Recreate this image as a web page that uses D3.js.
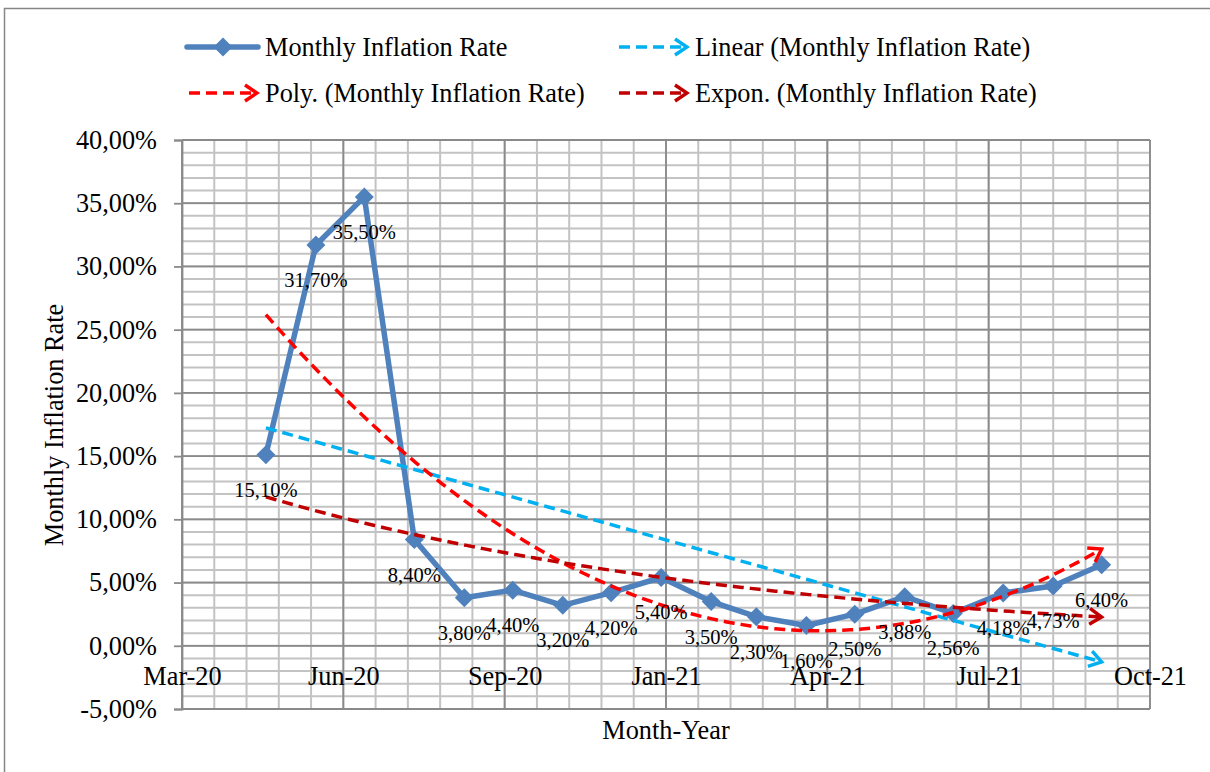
<!DOCTYPE html>
<html>
<head>
<meta charset="utf-8">
<script src="https://cdn.jsdelivr.net/npm/d3@7"></script>
<style>
  html, body { margin: 0; padding: 0; background: #fff; }
  svg { display: block; }
  text { font-family: "Liberation Serif", "Times New Roman", serif; fill: #000; }
</style>
</head>
<body>
<svg id="chart" width="1210" height="772"></svg>
<script>
// ---- data ----
const months = ["2020-05-01","2020-06-01","2020-07-01","2020-08-01","2020-09-01","2020-10-01",
                "2020-11-01","2020-12-01","2021-01-01","2021-02-01","2021-03-01","2021-04-01",
                "2021-05-01","2021-06-01","2021-07-01","2021-08-01","2021-09-01","2021-10-01"];
const rates = [15.10, 31.70, 35.50, 8.40, 3.80, 4.40, 3.20, 4.20, 5.40, 3.50, 2.30, 1.60,
               2.50, 3.88, 2.56, 4.18, 4.73, 6.40];
const xTickLabels = ["Mar-20","Jun-20","Sep-20","Jan-21","Apr-21","Jul-21","Oct-21"];
const yTicks = [-5, 0, 5, 10, 15, 20, 25, 30, 35, 40];
const legendNames = ["Monthly Inflation Rate", "Linear (Monthly Inflation Rate)",
                     "Poly. (Monthly Inflation Rate)", "Expon. (Monthly Inflation Rate)"];

// ---- layout ----
const FONT = 26.3;
const LABEL_FONT = 20.5;
const SERIF = '"Liberation Serif", "Times New Roman", serif';
const svg = d3.select("#chart");
const dates = months.map(s => new Date(s + "T00:00:00Z"));
const xMin = new Date(Date.UTC(2020, 2, 10));
const xMax = new Date(Date.UTC(2021, 9, 31));
const x = d3.scaleUtc().domain([xMin, xMax]).range([182, 1150]);
const y = d3.scaleLinear().domain([-5, 40]).range([709, 140]);
const DAY = 86400000;

const majorTickDates = d3.range(0, 7).map(k => new Date(xMin.getTime() + k * 100 * DAY));
const minorTickDates = d3.range(0, 31).map(k => new Date(xMin.getTime() + k * 20 * DAY));
const minorY = d3.range(-5, 41, 1);

// border
svg.append("rect").attr("x", 4.5).attr("y", 8.5).attr("width", 1215).attr("height", 800)
  .attr("fill", "#fff").attr("stroke", "#868686").attr("stroke-width", 1.5);

const grid = svg.append("g");
grid.selectAll(".mx").data(minorTickDates).join("line")
  .attr("x1", d => x(d)).attr("x2", d => x(d)).attr("y1", y(40)).attr("y2", y(-5))
  .attr("stroke", "#c3c3c3").attr("stroke-width", 2);
grid.selectAll(".my").data(minorY).join("line")
  .attr("x1", x(xMin)).attr("x2", x(xMax)).attr("y1", d => y(d)).attr("y2", d => y(d))
  .attr("stroke", "#c3c3c3").attr("stroke-width", 2);
grid.selectAll(".Mx").data(majorTickDates).join("line")
  .attr("x1", d => x(d)).attr("x2", d => x(d)).attr("y1", y(40)).attr("y2", y(-5))
  .attr("stroke", "#8a8a8a").attr("stroke-width", 1.8);
grid.selectAll(".My").data(yTicks).join("line")
  .attr("x1", x(xMin)).attr("x2", x(xMax)).attr("y1", d => y(d)).attr("y2", d => y(d))
  .attr("stroke", "#8a8a8a").attr("stroke-width", 1.8);

// y axis
const yAxis = d3.axisLeft(y).tickValues(yTicks).tickSize(8).tickPadding(17)
  .tickFormat(d => d.toFixed(2).replace(".", ",") + "%");
const gy = svg.append("g").attr("transform", `translate(${x(xMin)},0)`).call(yAxis)
  .attr("font-family", SERIF);
gy.select(".domain").attr("stroke", "#8a8a8a").attr("stroke-width", 1.8);
gy.selectAll(".tick line").attr("stroke", "#8a8a8a").attr("stroke-width", 1.8);
gy.selectAll(".tick text").style("font-size", FONT + "px").attr("fill", "#000")
  .style("font-family", SERIF);

// x axis labels (axis crosses at 0)
const xAxis = d3.axisBottom(x).tickValues(majorTickDates).tickSize(0).tickPadding(26)
  .tickFormat((d, i) => xTickLabels[i]);
const gx = svg.append("g").attr("transform", `translate(0,${y(0)})`).call(xAxis)
  .attr("font-family", SERIF);
gx.select(".domain").remove();
gx.selectAll(".tick text").style("font-size", FONT + "px").attr("fill", "#000")
  .style("font-family", SERIF).attr("dy", "0.5em");

// axis titles
svg.append("text").attr("transform", `translate(63,425) rotate(-90)`)
  .attr("text-anchor", "middle").style("font-size", FONT + "px").text("Monthly Inflation Rate");
svg.append("text").attr("x", 666).attr("y", 739)
  .attr("text-anchor", "middle").style("font-size", FONT + "px").text("Month-Year");

// ---- trendlines (least squares fits of the data, as in the spreadsheet) ----
const t = dates.map(d => (d - dates[0]) / DAY);
const n = rates.length;
function linearFit(xs, ys) {
  const mx = d3.mean(xs), my = d3.mean(ys);
  let sxy = 0, sxx = 0;
  xs.forEach((v, i) => { sxy += (v - mx) * (ys[i] - my); sxx += (v - mx) ** 2; });
  const b = sxy / sxx;
  return { a: my - b * mx, b };
}
function polyFit(xs, ys, order) {
  const m = order + 1;
  const A = Array.from({length: m}, () => new Array(m + 1).fill(0));
  xs.forEach((v, k) => {
    for (let i = 0; i < m; i++) {
      for (let j = 0; j < m; j++) A[i][j] += Math.pow(v, i + j);
      A[i][m] += ys[k] * Math.pow(v, i);
    }
  });
  for (let c = 0; c < m; c++) {
    let p = c;
    for (let r = c + 1; r < m; r++) if (Math.abs(A[r][c]) > Math.abs(A[p][c])) p = r;
    [A[c], A[p]] = [A[p], A[c]];
    for (let r = 0; r < m; r++) {
      if (r === c) continue;
      const f = A[r][c] / A[c][c];
      for (let k = c; k <= m; k++) A[r][k] -= f * A[c][k];
    }
  }
  return A.map((row, i) => row[m] / row[i]);
}
const lin = linearFit(t, rates);
const poly = polyFit(t, rates, 2);
const ex = linearFit(t, rates.map(Math.log));
const tEnd = t[n - 1];
const samples = d3.range(0, 101).map(k => k / 100 * tEnd);
const toDate = s => new Date(dates[0].getTime() + s * DAY);
const trends = [
  { color: "#00b0f0", f: s => lin.a + lin.b * s },
  { color: "#ff0000", f: s => poly[0] + poly[1] * s + poly[2] * s * s },
  { color: "#c00000", f: s => Math.exp(ex.a + ex.b * s) }
];

const defs = svg.append("defs");
trends.forEach((tr, i) => {
  defs.append("marker").attr("id", "arr" + i)
    .attr("viewBox", "0 0 20 20").attr("refX", 17).attr("refY", 10)
    .attr("markerWidth", 20).attr("markerHeight", 20)
    .attr("markerUnits", "userSpaceOnUse").attr("orient", "auto")
    .append("path").attr("d", "M5,2 L17,10 L5,18")
    .attr("fill", "none").attr("stroke", tr.color).attr("stroke-width", 3.5);
});

// main series
const line = d3.line().x((d, i) => x(dates[i])).y(d => y(d));
svg.append("path").datum(rates).attr("d", line)
  .attr("fill", "none").attr("stroke", "#4f81bd").attr("stroke-width", 5.5)
  .attr("stroke-linejoin", "round");
const diamond = "M0,-9.5 L9.5,0 L0,9.5 L-9.5,0 Z";
svg.selectAll(".pt").data(rates).join("path")
  .attr("transform", (d, i) => `translate(${x(dates[i])},${y(d)})`)
  .attr("d", diamond).attr("fill", "#4f81bd");

// trendline paths
const tline = d3.line().x(s => x(toDate(s.s))).y(s => y(s.v));
trends.forEach((tr, i) => {
  const pts = samples.map(s => ({ s, v: tr.f(s) }));
  svg.append("path").datum(pts).attr("d", tline)
    .attr("fill", "none").attr("stroke", tr.color).attr("stroke-width", 3.5)
    .attr("stroke-dasharray", "11 6").attr("marker-end", `url(#arr${i})`);
});

// data labels (below)
svg.selectAll(".lbl").data(rates).join("text")
  .attr("x", (d, i) => x(dates[i])).attr("y", d => y(d) + 42)
  .attr("text-anchor", "middle").style("font-size", LABEL_FONT + "px")
  .text(d => d.toFixed(2).replace(".", ",") + "%");

// ---- legend ----
const leg = svg.append("g");
const legItems = [
  { name: legendNames[0], x0: 187, y0: 47, type: "series" },
  { name: legendNames[1], x0: 617, y0: 47, type: "trend", k: 0 },
  { name: legendNames[2], x0: 187, y0: 93, type: "trend", k: 1 },
  { name: legendNames[3], x0: 617, y0: 93, type: "trend", k: 2 }
];
legItems.forEach(it => {
  if (it.type === "series") {
    leg.append("line").attr("x1", it.x0).attr("x2", it.x0 + 71).attr("y1", it.y0).attr("y2", it.y0)
      .attr("stroke", "#4f81bd").attr("stroke-width", 5.5).attr("stroke-linecap", "round");
    leg.append("path").attr("transform", `translate(${it.x0 + 36},${it.y0})`)
      .attr("d", diamond).attr("fill", "#4f81bd");
  } else {
    leg.append("line").attr("x1", it.x0 + 2).attr("x2", it.x0 + 70).attr("y1", it.y0).attr("y2", it.y0)
      .attr("stroke", trends[it.k].color).attr("stroke-width", 3.5)
      .attr("stroke-dasharray", "11 6").attr("marker-end", `url(#arr${it.k})`);
  }
  leg.append("text").attr("x", it.x0 + 78).attr("y", it.y0 + 9)
    .style("font-size", FONT + "px").text(it.name);
});
</script>
</body>
</html>
